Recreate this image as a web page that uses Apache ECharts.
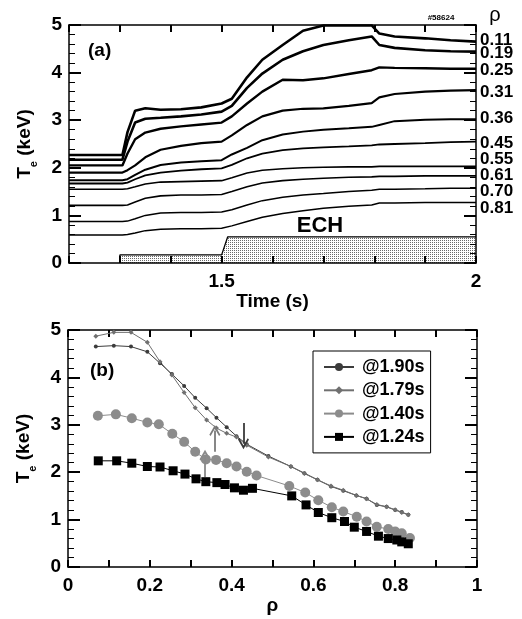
<!DOCTYPE html>
<html><head><meta charset="utf-8">
<script src="https://cdn.jsdelivr.net/npm/echarts@6/dist/echarts.min.js"></script>
<style>html,body{margin:0;padding:0;background:#fff}#c{width:522px;height:619px}</style>
</head><body><div id="c"></div>
<script>
// ---- Panel (a): Te time traces at several rho ----
const timeS = [1.20,1.305,1.315,1.33,1.35,1.38,1.42,1.46,1.50,1.52,1.55,1.58,1.62,1.66,1.70,1.75,1.795,1.81,1.84,1.90,1.95,2.00];
const te011 = [2.27,2.27,2.75,3.20,3.25,3.22,3.23,3.27,3.35,3.45,3.90,4.27,4.58,4.88,4.99,4.99,4.99,4.82,4.76,4.72,4.68,4.65];
const te019 = [2.17,2.17,2.55,2.95,3.03,3.05,3.08,3.12,3.18,3.30,3.68,3.98,4.27,4.45,4.58,4.68,4.76,4.58,4.52,4.47,4.45,4.44];
const te025 = [2.05,2.05,2.30,2.60,2.74,2.82,2.87,2.91,2.95,3.08,3.35,3.60,3.85,3.84,3.88,3.97,4.05,4.11,4.10,4.09,4.08,4.08];
const te031 = [1.90,1.90,1.95,2.05,2.22,2.38,2.46,2.52,2.55,2.68,2.90,3.08,3.20,3.24,3.25,3.30,3.36,3.48,3.55,3.60,3.62,3.63];
const te036 = [1.74,1.74,1.76,1.85,1.96,2.06,2.11,2.14,2.16,2.28,2.42,2.58,2.70,2.76,2.80,2.83,2.86,2.90,2.98,3.01,3.02,3.02];
const te045 = [1.67,1.67,1.69,1.76,1.84,1.90,1.94,1.97,1.99,2.06,2.20,2.30,2.37,2.41,2.43,2.45,2.47,2.49,2.50,2.52,2.54,2.55];
const te055 = [1.55,1.55,1.56,1.60,1.66,1.70,1.71,1.72,1.73,1.79,1.89,1.95,1.98,2.00,2.01,2.02,2.02,2.03,2.03,2.03,2.03,2.03];
const te061 = [1.21,1.21,1.22,1.28,1.36,1.41,1.43,1.43,1.44,1.50,1.60,1.68,1.73,1.76,1.78,1.80,1.81,1.82,1.82,1.83,1.83,1.83];
const te070 = [0.87,0.87,0.88,0.93,1.00,1.05,1.06,1.06,1.07,1.12,1.22,1.31,1.38,1.43,1.46,1.50,1.53,1.55,1.55,1.56,1.57,1.57];
const te081 = [0.59,0.59,0.60,0.63,0.68,0.71,0.72,0.72,0.73,0.78,0.87,0.96,1.04,1.10,1.15,1.19,1.22,1.26,1.26,1.27,1.27,1.27];
const traceList = [te011,te019,te025,te031,te036,te045,te055,te061,te070,te081];
const rhoLabels = ['0.11','0.19','0.25','0.31','0.36','0.45','0.55','0.61','0.70','0.81'];
// ECH power waveform (arbitrary units on the Te scale)
const echTime = [1.30,1.30,1.50,1.512,2.00];
const echLevel = [0,0.17,0.17,0.55,0.55];

// ---- Panel (b): Te profiles ----
const rho190 = [0.068,0.112,0.154,0.194,0.225,0.254,0.284,0.311,0.339,0.363,0.388,0.412,0.437,0.49,0.545,0.578,0.61,0.643,0.673,0.705,0.73,0.755,0.779,0.80,0.816,0.832];
const te190  = [4.65,4.67,4.65,4.54,4.30,4.07,3.82,3.57,3.35,3.15,2.95,2.76,2.59,2.34,2.12,1.98,1.84,1.70,1.61,1.51,1.44,1.31,1.27,1.20,1.16,1.10];
const rho179 = [0.068,0.112,0.154,0.194,0.225,0.254,0.284,0.311,0.339,0.363,0.388,0.412,0.437,0.49,0.545,0.578,0.61,0.643,0.673,0.705,0.73,0.755,0.779,0.80,0.816,0.832];
const te179  = [4.87,4.95,4.95,4.74,4.33,4.05,3.68,3.36,3.10,2.93,2.82,2.74,2.57,2.32,2.12,1.97,1.84,1.71,1.62,1.51,1.44,1.32,1.27,1.21,1.15,1.10];
const rho140 = [0.073,0.117,0.156,0.194,0.222,0.255,0.284,0.311,0.337,0.362,0.388,0.412,0.437,0.461,0.541,0.580,0.612,0.645,0.673,0.706,0.730,0.755,0.783,0.800,0.816,0.836];
const te140  = [3.19,3.22,3.14,3.05,3.01,2.81,2.64,2.43,2.27,2.26,2.19,2.12,2.01,1.93,1.71,1.57,1.41,1.26,1.17,1.06,0.96,0.85,0.80,0.75,0.71,0.61];
const rho124 = [0.074,0.119,0.156,0.194,0.225,0.257,0.286,0.313,0.337,0.364,0.384,0.407,0.429,0.451,0.547,0.582,0.612,0.645,0.676,0.700,0.730,0.759,0.783,0.804,0.816,0.832];
const te124  = [2.24,2.24,2.19,2.12,2.11,2.03,1.96,1.86,1.80,1.78,1.74,1.67,1.62,1.66,1.50,1.31,1.15,1.04,0.96,0.84,0.75,0.65,0.60,0.57,0.53,0.49];
const profileNames = ['@1.90s','@1.79s','@1.40s','@1.24s'];
// arrows marking the foot of the steep gradient: [rho, from Te, to Te]
const arrow190 = [0.429, 3.04, 2.60];
const arrow179 = [0.359, 2.43, 2.88];
const arrow140 = [0.335, 1.90, 2.36];

const FONT = '"Liberation Sans", Arial, Helvetica, sans-serif';
const chart = echarts.init(document.getElementById('c'), null, {renderer:'canvas'});

const pc = document.createElement('canvas'); pc.width = 2; pc.height = 2;
const pctx = pc.getContext('2d'); pctx.fillStyle = '#fff'; pctx.fillRect(0,0,2,2);
pctx.fillStyle = '#6a6a6a'; pctx.fillRect(0,0,1,1);

const zip = (a,b) => a.map((v,i) => [v, b[i]]);
const near = (a,b) => Math.abs(a-b) < 1e-6;
const chevron = 'path://M0,0 L6,9 L4.6,10.2 L0,3.6 L-4.6,10.2 L-6,9 Z';

// ticks drawn into the frame by giving them a negative outward length
function axisX(grid, pos, min, max, fmt, showLabel, name, nameGap, mirror) {
  const line = {show:true, lineStyle:{color:'#000', width:1.5}};
  if (mirror) line.onZeroAxisIndex = 99;
  return {
    type:'value', gridIndex:grid, position:pos, min:min, max:max, interval:0.1,
    axisLine: line,
    axisTick:{show:true, inside:false, length:-7, lineStyle:{color:'#000', width:2}},
    axisLabel:{show:showLabel, formatter:fmt, margin:9, color:'#000', fontSize:19, fontWeight:'bold', fontFamily:FONT},
    splitLine:{show:false},
    name: name || '', nameLocation:'middle', nameGap: nameGap || 0,
    nameTextStyle:{color:'#000', fontSize:19, fontWeight:'bold', fontFamily:FONT}
  };
}
function axisY(grid, pos, showLabel, withName, mirror) {
  const line = {show:true, lineStyle:{color:'#000', width:1.5}};
  if (mirror) line.onZeroAxisIndex = 99;
  const a = {
    type:'value', gridIndex:grid, position:pos, min:0, max:5, interval:1,
    axisLine: line,
    axisTick:{show:true, inside:false, length:-12, lineStyle:{color:'#000', width:2}},
    minorTick:{show:true, splitNumber:5, length:-6, lineStyle:{color:'#000', width:1}},
    axisLabel:{show:showLabel, margin:7, color:'#000', fontSize:19, fontWeight:'bold', fontFamily:FONT},
    splitLine:{show:false}
  };
  if (withName) {
    a.name = 'T{s|e} (keV)'; a.nameLocation = 'middle'; a.nameGap = 30;
    a.nameTextStyle = {color:'#000', fontSize:19, fontWeight:'bold', fontFamily:FONT,
      rich:{s:{fontSize:11, fontWeight:'bold', fontFamily:FONT, color:'#000', verticalAlign:'bottom', lineHeight:28}}};
  }
  return a;
}
const fmtTop = v => near(v,1.5) ? '1.5' : (near(v,2) ? '2' : '');
const fmtBot = v => { const k = Math.round(v*10); return k % 2 === 0 ? String(k/10) : ''; };

const traceWidths = [2.6,2.6,2.4,2.2,2,1.8,1.6,1.6,1.5,1.5];
const series = [];
series.push({
  type:'line', xAxisIndex:0, yAxisIndex:0, data: zip(echTime, echLevel), symbol:'none', z:-1,
  lineStyle:{color:'#000', width:1.3}, areaStyle:{color:{image:pc, repeat:'repeat'}, opacity:1}, silent:true
});
traceList.forEach((arr,i) => series.push({
  type:'line', xAxisIndex:0, yAxisIndex:0, data: zip(timeS, arr), symbol:'none', z:3,
  lineStyle:{color:'#000', width:traceWidths[i]}, silent:true
}));
function arrowML(a, color) {
  return {silent:true, symbol:['none', chevron], symbolSize:[11,11], label:{show:false},
    lineStyle:{color:color, width:1.8, type:'solid'},
    data:[[{coord:[a[0], a[1]]},{coord:[a[0], a[2]]}]]};
}
series.push({name:profileNames[0], type:'line', xAxisIndex:2, yAxisIndex:2, data:zip(rho190, te190),
  symbol:'circle', symbolSize:4, lineStyle:{color:'#3c3c3c', width:1}, itemStyle:{color:'#3c3c3c'},
  markLine: arrowML(arrow190, '#3a3a3a'), z:4});
series.push({name:profileNames[1], type:'line', xAxisIndex:2, yAxisIndex:2, data:zip(rho179, te179),
  symbol:'diamond', symbolSize:5, lineStyle:{color:'#707070', width:1}, itemStyle:{color:'#707070'},
  markLine: arrowML(arrow179, '#7a7a7a'), z:4});
series.push({name:profileNames[2], type:'line', xAxisIndex:2, yAxisIndex:2, data:zip(rho140, te140),
  symbol:'circle', symbolSize:10, lineStyle:{color:'#8c8c8c', width:1}, itemStyle:{color:'#8c8c8c'},
  markLine: arrowML(arrow140, '#8a8a8a'), z:3});
series.push({name:profileNames[3], type:'line', xAxisIndex:2, yAxisIndex:2, data:zip(rho124, te124),
  symbol:'rect', symbolSize:9, lineStyle:{color:'#000', width:1}, itemStyle:{color:'#000'}, z:3});

const labelY = [40,53,70,92,118,143,159,175,191,208];
const graphics = rhoLabels.map((t,i) => ({type:'text', x:480, y:labelY[i], silent:true,
  style:{text:t, fill:'#000', font:'bold 17px ' + FONT, align:'left', verticalAlign:'middle'}}));
graphics.push({type:'text', x:495, y:15, style:{text:'ρ', fill:'#000', font:'20px ' + FONT, align:'center', verticalAlign:'middle'}});
graphics.push({type:'text', x:441, y:18, style:{text:'#58624', fill:'#000', font:'bold 8px ' + FONT, align:'center', verticalAlign:'middle'}});
graphics.push({type:'text', x:88, y:51, style:{text:'(a)', fill:'#000', font:'bold 19px ' + FONT, align:'left', verticalAlign:'middle'}});
graphics.push({type:'text', x:90, y:371, style:{text:'(b)', fill:'#000', font:'bold 19px ' + FONT, align:'left', verticalAlign:'middle'}});
graphics.push({type:'text', x:320, y:226, style:{text:'ECH', fill:'#000', font:'bold 22px ' + FONT, align:'center', verticalAlign:'middle'}});

chart.setOption({
  animation:false,
  backgroundColor:'#fff',
  grid:[{left:69, right:46, top:25, height:238}, {left:68, right:45, top:330, height:237}],
  xAxis:[
    axisX(0,'bottom',1.2,2,fmtTop,true,'Time (s)',27,false),
    axisX(0,'top',1.2,2,fmtTop,false,'',0,true),
    axisX(1,'bottom',0,1,fmtBot,true,'ρ',29,false),
    axisX(1,'top',0,1,fmtBot,false,'',0,true)
  ],
  yAxis:[ axisY(0,'left',true,true,false), axisY(0,'right',false,false,true), axisY(1,'left',true,true,false), axisY(1,'right',false,false,true) ],
  legend:{data:profileNames, orient:'vertical', left:313, top:351, padding:[5,6,5,10], itemGap:1.3,
    itemWidth:30, itemHeight:10, borderColor:'#000', borderWidth:1, backgroundColor:'#fff',
    textStyle:{color:'#000', fontSize:18, fontWeight:'bold', fontFamily:FONT, lineHeight:22, padding:[0,0,0,3]}},
  series: series,
  graphic: graphics
});
</script></body></html>
